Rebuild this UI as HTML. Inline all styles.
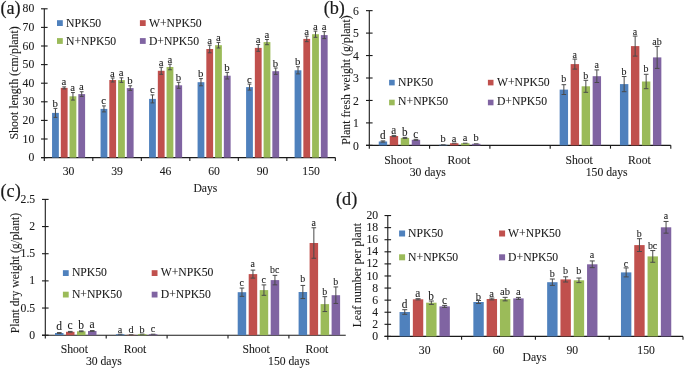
<!DOCTYPE html>
<html><head><meta charset="utf-8"><style>
html,body{margin:0;padding:0;background:#fff;overflow:hidden;width:685px;height:369px;}
svg{display:block;will-change:transform;}
text{font-family:"Liberation Serif",serif;fill:#1a1a1a;stroke:#1a1a1a;stroke-width:0.08px;}
.pl{stroke-width:0.2px;}
</style></head><body>
<svg width="685" height="369" viewBox="0 0 685 369">
<rect x="0" y="0" width="685" height="369" fill="#fff"/>
<text x="0.40" y="14.20" text-anchor="start" font-size="18.2" class="pl">(a)</text>
<line x1="44.30" y1="8.80" x2="44.30" y2="157.60" stroke="#1a1a1a" stroke-width="1.1"/>
<line x1="41.00" y1="157.60" x2="47.60" y2="157.60" stroke="#1a1a1a" stroke-width="1.1"/>
<text x="34.30" y="161.20" text-anchor="end" font-size="11.7">0</text>
<line x1="41.00" y1="139.00" x2="47.60" y2="139.00" stroke="#1a1a1a" stroke-width="1.1"/>
<text x="34.30" y="142.60" text-anchor="end" font-size="11.7">10</text>
<line x1="41.00" y1="120.40" x2="47.60" y2="120.40" stroke="#1a1a1a" stroke-width="1.1"/>
<text x="34.30" y="124.00" text-anchor="end" font-size="11.7">20</text>
<line x1="41.00" y1="101.80" x2="47.60" y2="101.80" stroke="#1a1a1a" stroke-width="1.1"/>
<text x="34.30" y="105.40" text-anchor="end" font-size="11.7">30</text>
<line x1="41.00" y1="83.20" x2="47.60" y2="83.20" stroke="#1a1a1a" stroke-width="1.1"/>
<text x="34.30" y="86.80" text-anchor="end" font-size="11.7">40</text>
<line x1="41.00" y1="64.60" x2="47.60" y2="64.60" stroke="#1a1a1a" stroke-width="1.1"/>
<text x="34.30" y="68.20" text-anchor="end" font-size="11.7">50</text>
<line x1="41.00" y1="46.00" x2="47.60" y2="46.00" stroke="#1a1a1a" stroke-width="1.1"/>
<text x="34.30" y="49.60" text-anchor="end" font-size="11.7">60</text>
<line x1="41.00" y1="27.40" x2="47.60" y2="27.40" stroke="#1a1a1a" stroke-width="1.1"/>
<text x="34.30" y="31.00" text-anchor="end" font-size="11.7">70</text>
<line x1="41.00" y1="8.80" x2="47.60" y2="8.80" stroke="#1a1a1a" stroke-width="1.1"/>
<text x="34.30" y="12.40" text-anchor="end" font-size="11.7">80</text>
<line x1="41.00" y1="157.60" x2="335.35" y2="157.60" stroke="#1a1a1a" stroke-width="1.1"/>
<line x1="44.30" y1="157.60" x2="44.30" y2="160.90" stroke="#1a1a1a" stroke-width="1.1"/>
<line x1="92.81" y1="157.60" x2="92.81" y2="160.90" stroke="#1a1a1a" stroke-width="1.1"/>
<line x1="141.32" y1="157.60" x2="141.32" y2="160.90" stroke="#1a1a1a" stroke-width="1.1"/>
<line x1="189.82" y1="157.60" x2="189.82" y2="160.90" stroke="#1a1a1a" stroke-width="1.1"/>
<line x1="238.33" y1="157.60" x2="238.33" y2="160.90" stroke="#1a1a1a" stroke-width="1.1"/>
<line x1="286.84" y1="157.60" x2="286.84" y2="160.90" stroke="#1a1a1a" stroke-width="1.1"/>
<line x1="335.35" y1="157.60" x2="335.35" y2="160.90" stroke="#1a1a1a" stroke-width="1.1"/>
<text x="68.55" y="174.80" text-anchor="middle" font-size="11.7">30</text>
<text x="117.06" y="174.80" text-anchor="middle" font-size="11.7">39</text>
<text x="165.57" y="174.80" text-anchor="middle" font-size="11.7">46</text>
<text x="214.08" y="174.80" text-anchor="middle" font-size="11.7">60</text>
<text x="262.59" y="174.80" text-anchor="middle" font-size="11.7">90</text>
<text x="311.10" y="174.80" text-anchor="middle" font-size="11.7">150</text>
<text x="205.40" y="191.80" text-anchor="middle" font-size="11.7">Days</text>
<text x="0" y="0" text-anchor="middle" font-size="11.95" transform="translate(17.90,82.90) rotate(-90)">Shoot length (cm/plant)</text>
<rect x="52.05" y="112.90" width="6.80" height="44.70" fill="#4F81BD"/>
<rect x="60.80" y="87.90" width="6.80" height="69.70" fill="#C0504D"/>
<rect x="69.55" y="96.30" width="6.80" height="61.30" fill="#9BBB59"/>
<rect x="78.30" y="94.10" width="6.80" height="63.50" fill="#8064A2"/>
<rect x="100.56" y="108.90" width="6.80" height="48.70" fill="#4F81BD"/>
<rect x="109.31" y="80.00" width="6.80" height="77.60" fill="#C0504D"/>
<rect x="118.06" y="80.10" width="6.80" height="77.50" fill="#9BBB59"/>
<rect x="126.81" y="88.10" width="6.80" height="69.50" fill="#8064A2"/>
<rect x="149.07" y="98.90" width="6.80" height="58.70" fill="#4F81BD"/>
<rect x="157.82" y="70.80" width="6.80" height="86.80" fill="#C0504D"/>
<rect x="166.57" y="67.00" width="6.80" height="90.60" fill="#9BBB59"/>
<rect x="175.32" y="85.30" width="6.80" height="72.30" fill="#8064A2"/>
<rect x="197.58" y="82.20" width="6.80" height="75.40" fill="#4F81BD"/>
<rect x="206.33" y="49.00" width="6.80" height="108.60" fill="#C0504D"/>
<rect x="215.08" y="45.20" width="6.80" height="112.40" fill="#9BBB59"/>
<rect x="223.83" y="75.70" width="6.80" height="81.90" fill="#8064A2"/>
<rect x="246.09" y="87.10" width="6.80" height="70.50" fill="#4F81BD"/>
<rect x="254.84" y="47.90" width="6.80" height="109.70" fill="#C0504D"/>
<rect x="263.59" y="42.10" width="6.80" height="115.50" fill="#9BBB59"/>
<rect x="272.34" y="71.20" width="6.80" height="86.40" fill="#8064A2"/>
<rect x="294.60" y="70.30" width="6.80" height="87.30" fill="#4F81BD"/>
<rect x="303.35" y="38.90" width="6.80" height="118.70" fill="#C0504D"/>
<rect x="312.10" y="34.20" width="6.80" height="123.40" fill="#9BBB59"/>
<rect x="320.85" y="35.10" width="6.80" height="122.50" fill="#8064A2"/>
<line x1="55.45" y1="108.40" x2="55.45" y2="117.40" stroke="#4a4a4a" stroke-width="1.0"/>
<line x1="53.55" y1="108.40" x2="57.35" y2="108.40" stroke="#4a4a4a" stroke-width="1.0"/>
<line x1="53.55" y1="117.40" x2="57.35" y2="117.40" stroke="#4a4a4a" stroke-width="1.0"/>
<text x="0" y="0" text-anchor="middle" font-size="11.2" transform="translate(55.25,106.90) scale(0.96,1)">b</text>
<line x1="64.20" y1="86.90" x2="64.20" y2="88.90" stroke="#4a4a4a" stroke-width="1.0"/>
<line x1="62.30" y1="86.90" x2="66.10" y2="86.90" stroke="#4a4a4a" stroke-width="1.0"/>
<line x1="62.30" y1="88.90" x2="66.10" y2="88.90" stroke="#4a4a4a" stroke-width="1.0"/>
<text x="0" y="0" text-anchor="middle" font-size="11.2" transform="translate(64.00,85.40) scale(0.96,1)">a</text>
<line x1="72.95" y1="92.55" x2="72.95" y2="100.05" stroke="#4a4a4a" stroke-width="1.0"/>
<line x1="71.05" y1="92.55" x2="74.85" y2="92.55" stroke="#4a4a4a" stroke-width="1.0"/>
<line x1="71.05" y1="100.05" x2="74.85" y2="100.05" stroke="#4a4a4a" stroke-width="1.0"/>
<text x="0" y="0" text-anchor="middle" font-size="11.2" transform="translate(72.75,91.05) scale(0.96,1)">a</text>
<line x1="81.70" y1="91.75" x2="81.70" y2="96.45" stroke="#4a4a4a" stroke-width="1.0"/>
<line x1="79.80" y1="91.75" x2="83.60" y2="91.75" stroke="#4a4a4a" stroke-width="1.0"/>
<line x1="79.80" y1="96.45" x2="83.60" y2="96.45" stroke="#4a4a4a" stroke-width="1.0"/>
<text x="0" y="0" text-anchor="middle" font-size="11.2" transform="translate(81.50,90.25) scale(0.96,1)">a</text>
<line x1="103.96" y1="105.90" x2="103.96" y2="111.90" stroke="#4a4a4a" stroke-width="1.0"/>
<line x1="102.06" y1="105.90" x2="105.86" y2="105.90" stroke="#4a4a4a" stroke-width="1.0"/>
<line x1="102.06" y1="111.90" x2="105.86" y2="111.90" stroke="#4a4a4a" stroke-width="1.0"/>
<text x="0" y="0" text-anchor="middle" font-size="11.2" transform="translate(103.76,104.40) scale(0.96,1)">c</text>
<line x1="112.71" y1="78.00" x2="112.71" y2="82.00" stroke="#4a4a4a" stroke-width="1.0"/>
<line x1="110.81" y1="78.00" x2="114.61" y2="78.00" stroke="#4a4a4a" stroke-width="1.0"/>
<line x1="110.81" y1="82.00" x2="114.61" y2="82.00" stroke="#4a4a4a" stroke-width="1.0"/>
<text x="0" y="0" text-anchor="middle" font-size="11.2" transform="translate(112.51,76.50) scale(0.96,1)">a</text>
<line x1="121.46" y1="77.80" x2="121.46" y2="82.40" stroke="#4a4a4a" stroke-width="1.0"/>
<line x1="119.56" y1="77.80" x2="123.36" y2="77.80" stroke="#4a4a4a" stroke-width="1.0"/>
<line x1="119.56" y1="82.40" x2="123.36" y2="82.40" stroke="#4a4a4a" stroke-width="1.0"/>
<text x="0" y="0" text-anchor="middle" font-size="11.2" transform="translate(121.26,76.30) scale(0.96,1)">a</text>
<line x1="130.21" y1="85.80" x2="130.21" y2="90.40" stroke="#4a4a4a" stroke-width="1.0"/>
<line x1="128.31" y1="85.80" x2="132.11" y2="85.80" stroke="#4a4a4a" stroke-width="1.0"/>
<line x1="128.31" y1="90.40" x2="132.11" y2="90.40" stroke="#4a4a4a" stroke-width="1.0"/>
<text x="0" y="0" text-anchor="middle" font-size="11.2" transform="translate(130.01,84.30) scale(0.96,1)">b</text>
<line x1="152.47" y1="94.90" x2="152.47" y2="102.90" stroke="#4a4a4a" stroke-width="1.0"/>
<line x1="150.57" y1="94.90" x2="154.37" y2="94.90" stroke="#4a4a4a" stroke-width="1.0"/>
<line x1="150.57" y1="102.90" x2="154.37" y2="102.90" stroke="#4a4a4a" stroke-width="1.0"/>
<text x="0" y="0" text-anchor="middle" font-size="11.2" transform="translate(152.27,93.40) scale(0.96,1)">c</text>
<line x1="161.22" y1="67.30" x2="161.22" y2="74.30" stroke="#4a4a4a" stroke-width="1.0"/>
<line x1="159.32" y1="67.30" x2="163.12" y2="67.30" stroke="#4a4a4a" stroke-width="1.0"/>
<line x1="159.32" y1="74.30" x2="163.12" y2="74.30" stroke="#4a4a4a" stroke-width="1.0"/>
<text x="0" y="0" text-anchor="middle" font-size="11.2" transform="translate(161.02,65.80) scale(0.96,1)">a</text>
<line x1="169.97" y1="64.25" x2="169.97" y2="69.75" stroke="#4a4a4a" stroke-width="1.0"/>
<line x1="168.07" y1="64.25" x2="171.87" y2="64.25" stroke="#4a4a4a" stroke-width="1.0"/>
<line x1="168.07" y1="69.75" x2="171.87" y2="69.75" stroke="#4a4a4a" stroke-width="1.0"/>
<text x="0" y="0" text-anchor="middle" font-size="11.2" transform="translate(169.77,62.75) scale(0.96,1)">a</text>
<line x1="178.72" y1="82.30" x2="178.72" y2="88.30" stroke="#4a4a4a" stroke-width="1.0"/>
<line x1="176.82" y1="82.30" x2="180.62" y2="82.30" stroke="#4a4a4a" stroke-width="1.0"/>
<line x1="176.82" y1="88.30" x2="180.62" y2="88.30" stroke="#4a4a4a" stroke-width="1.0"/>
<text x="0" y="0" text-anchor="middle" font-size="11.2" transform="translate(178.52,80.80) scale(0.96,1)">b</text>
<line x1="200.98" y1="78.60" x2="200.98" y2="85.80" stroke="#4a4a4a" stroke-width="1.0"/>
<line x1="199.08" y1="78.60" x2="202.88" y2="78.60" stroke="#4a4a4a" stroke-width="1.0"/>
<line x1="199.08" y1="85.80" x2="202.88" y2="85.80" stroke="#4a4a4a" stroke-width="1.0"/>
<text x="0" y="0" text-anchor="middle" font-size="11.2" transform="translate(200.78,77.10) scale(0.96,1)">b</text>
<line x1="209.73" y1="45.20" x2="209.73" y2="52.80" stroke="#4a4a4a" stroke-width="1.0"/>
<line x1="207.83" y1="45.20" x2="211.63" y2="45.20" stroke="#4a4a4a" stroke-width="1.0"/>
<line x1="207.83" y1="52.80" x2="211.63" y2="52.80" stroke="#4a4a4a" stroke-width="1.0"/>
<text x="0" y="0" text-anchor="middle" font-size="11.2" transform="translate(209.53,43.70) scale(0.96,1)">a</text>
<line x1="218.48" y1="42.40" x2="218.48" y2="48.00" stroke="#4a4a4a" stroke-width="1.0"/>
<line x1="216.58" y1="42.40" x2="220.38" y2="42.40" stroke="#4a4a4a" stroke-width="1.0"/>
<line x1="216.58" y1="48.00" x2="220.38" y2="48.00" stroke="#4a4a4a" stroke-width="1.0"/>
<text x="0" y="0" text-anchor="middle" font-size="11.2" transform="translate(218.28,40.90) scale(0.96,1)">a</text>
<line x1="227.23" y1="72.40" x2="227.23" y2="79.00" stroke="#4a4a4a" stroke-width="1.0"/>
<line x1="225.33" y1="72.40" x2="229.13" y2="72.40" stroke="#4a4a4a" stroke-width="1.0"/>
<line x1="225.33" y1="79.00" x2="229.13" y2="79.00" stroke="#4a4a4a" stroke-width="1.0"/>
<text x="0" y="0" text-anchor="middle" font-size="11.2" transform="translate(227.03,70.90) scale(0.96,1)">b</text>
<line x1="249.49" y1="84.10" x2="249.49" y2="90.10" stroke="#4a4a4a" stroke-width="1.0"/>
<line x1="247.59" y1="84.10" x2="251.39" y2="84.10" stroke="#4a4a4a" stroke-width="1.0"/>
<line x1="247.59" y1="90.10" x2="251.39" y2="90.10" stroke="#4a4a4a" stroke-width="1.0"/>
<text x="0" y="0" text-anchor="middle" font-size="11.2" transform="translate(249.29,82.60) scale(0.96,1)">c</text>
<line x1="258.24" y1="44.50" x2="258.24" y2="51.30" stroke="#4a4a4a" stroke-width="1.0"/>
<line x1="256.34" y1="44.50" x2="260.14" y2="44.50" stroke="#4a4a4a" stroke-width="1.0"/>
<line x1="256.34" y1="51.30" x2="260.14" y2="51.30" stroke="#4a4a4a" stroke-width="1.0"/>
<text x="0" y="0" text-anchor="middle" font-size="11.2" transform="translate(258.04,43.00) scale(0.96,1)">a</text>
<line x1="266.99" y1="39.50" x2="266.99" y2="44.70" stroke="#4a4a4a" stroke-width="1.0"/>
<line x1="265.09" y1="39.50" x2="268.89" y2="39.50" stroke="#4a4a4a" stroke-width="1.0"/>
<line x1="265.09" y1="44.70" x2="268.89" y2="44.70" stroke="#4a4a4a" stroke-width="1.0"/>
<text x="0" y="0" text-anchor="middle" font-size="11.2" transform="translate(266.79,38.00) scale(0.96,1)">a</text>
<line x1="275.74" y1="68.00" x2="275.74" y2="74.40" stroke="#4a4a4a" stroke-width="1.0"/>
<line x1="273.84" y1="68.00" x2="277.64" y2="68.00" stroke="#4a4a4a" stroke-width="1.0"/>
<line x1="273.84" y1="74.40" x2="277.64" y2="74.40" stroke="#4a4a4a" stroke-width="1.0"/>
<text x="0" y="0" text-anchor="middle" font-size="11.2" transform="translate(275.54,66.50) scale(0.96,1)">b</text>
<line x1="298.00" y1="66.70" x2="298.00" y2="73.90" stroke="#4a4a4a" stroke-width="1.0"/>
<line x1="296.10" y1="66.70" x2="299.90" y2="66.70" stroke="#4a4a4a" stroke-width="1.0"/>
<line x1="296.10" y1="73.90" x2="299.90" y2="73.90" stroke="#4a4a4a" stroke-width="1.0"/>
<text x="0" y="0" text-anchor="middle" font-size="11.2" transform="translate(297.80,65.20) scale(0.96,1)">b</text>
<line x1="306.75" y1="36.15" x2="306.75" y2="41.65" stroke="#4a4a4a" stroke-width="1.0"/>
<line x1="304.85" y1="36.15" x2="308.65" y2="36.15" stroke="#4a4a4a" stroke-width="1.0"/>
<line x1="304.85" y1="41.65" x2="308.65" y2="41.65" stroke="#4a4a4a" stroke-width="1.0"/>
<text x="0" y="0" text-anchor="middle" font-size="11.2" transform="translate(306.55,34.65) scale(0.96,1)">a</text>
<line x1="315.50" y1="31.10" x2="315.50" y2="37.30" stroke="#4a4a4a" stroke-width="1.0"/>
<line x1="313.60" y1="31.10" x2="317.40" y2="31.10" stroke="#4a4a4a" stroke-width="1.0"/>
<line x1="313.60" y1="37.30" x2="317.40" y2="37.30" stroke="#4a4a4a" stroke-width="1.0"/>
<text x="0" y="0" text-anchor="middle" font-size="11.2" transform="translate(315.30,29.60) scale(0.96,1)">a</text>
<line x1="324.25" y1="31.60" x2="324.25" y2="38.60" stroke="#4a4a4a" stroke-width="1.0"/>
<line x1="322.35" y1="31.60" x2="326.15" y2="31.60" stroke="#4a4a4a" stroke-width="1.0"/>
<line x1="322.35" y1="38.60" x2="326.15" y2="38.60" stroke="#4a4a4a" stroke-width="1.0"/>
<text x="0" y="0" text-anchor="middle" font-size="11.2" transform="translate(324.05,30.10) scale(0.96,1)">a</text>
<rect x="57.00" y="20.20" width="5.80" height="5.80" fill="#4F81BD"/>
<text x="66.00" y="26.90" text-anchor="start" font-size="11.7">NPK50</text>
<rect x="139.90" y="20.20" width="5.80" height="5.80" fill="#C0504D"/>
<text x="148.90" y="26.90" text-anchor="start" font-size="11.7">W+NPK50</text>
<rect x="57.00" y="38.10" width="5.80" height="5.80" fill="#9BBB59"/>
<text x="66.00" y="44.70" text-anchor="start" font-size="11.7">N+NPK50</text>
<rect x="139.90" y="38.10" width="5.80" height="5.80" fill="#8064A2"/>
<text x="148.90" y="44.70" text-anchor="start" font-size="11.7">D+NPK50</text>
<text x="344.90" y="14.40" text-anchor="end" font-size="18.2" class="pl">(b)</text>
<line x1="369.30" y1="10.65" x2="369.30" y2="145.35" stroke="#1a1a1a" stroke-width="1.1"/>
<line x1="366.00" y1="145.35" x2="372.60" y2="145.35" stroke="#1a1a1a" stroke-width="1.1"/>
<text x="358.90" y="149.55" text-anchor="end" font-size="11.7">0</text>
<line x1="366.00" y1="122.90" x2="372.60" y2="122.90" stroke="#1a1a1a" stroke-width="1.1"/>
<text x="358.90" y="127.10" text-anchor="end" font-size="11.7">1</text>
<line x1="366.00" y1="100.45" x2="372.60" y2="100.45" stroke="#1a1a1a" stroke-width="1.1"/>
<text x="358.90" y="104.65" text-anchor="end" font-size="11.7">2</text>
<line x1="366.00" y1="78.00" x2="372.60" y2="78.00" stroke="#1a1a1a" stroke-width="1.1"/>
<text x="358.90" y="82.20" text-anchor="end" font-size="11.7">3</text>
<line x1="366.00" y1="55.55" x2="372.60" y2="55.55" stroke="#1a1a1a" stroke-width="1.1"/>
<text x="358.90" y="59.75" text-anchor="end" font-size="11.7">4</text>
<line x1="366.00" y1="33.10" x2="372.60" y2="33.10" stroke="#1a1a1a" stroke-width="1.1"/>
<text x="358.90" y="37.30" text-anchor="end" font-size="11.7">5</text>
<line x1="366.00" y1="10.65" x2="372.60" y2="10.65" stroke="#1a1a1a" stroke-width="1.1"/>
<text x="358.90" y="14.85" text-anchor="end" font-size="11.7">6</text>
<line x1="366.00" y1="145.35" x2="670.80" y2="145.35" stroke="#1a1a1a" stroke-width="1.1"/>
<line x1="369.30" y1="145.35" x2="369.30" y2="148.65" stroke="#1a1a1a" stroke-width="1.1"/>
<line x1="429.60" y1="145.35" x2="429.60" y2="148.65" stroke="#1a1a1a" stroke-width="1.1"/>
<line x1="489.90" y1="145.35" x2="489.90" y2="148.65" stroke="#1a1a1a" stroke-width="1.1"/>
<line x1="550.20" y1="145.35" x2="550.20" y2="148.65" stroke="#1a1a1a" stroke-width="1.1"/>
<line x1="610.50" y1="145.35" x2="610.50" y2="148.65" stroke="#1a1a1a" stroke-width="1.1"/>
<line x1="670.80" y1="145.35" x2="670.80" y2="148.65" stroke="#1a1a1a" stroke-width="1.1"/>
<text x="398.00" y="163.70" text-anchor="middle" font-size="11.7">Shoot</text>
<text x="458.80" y="163.70" text-anchor="middle" font-size="11.7">Root</text>
<text x="427.80" y="175.50" text-anchor="middle" font-size="11.7">30 days</text>
<text x="579.10" y="163.70" text-anchor="middle" font-size="11.7">Shoot</text>
<text x="639.40" y="163.70" text-anchor="middle" font-size="11.7">Root</text>
<text x="606.70" y="175.50" text-anchor="middle" font-size="11.7">150 days</text>
<text x="0" y="0" text-anchor="middle" font-size="11.8" transform="translate(350.40,80.10) rotate(-90)">Plant fresh weight (g/plant)</text>
<rect x="378.75" y="141.50" width="8.40" height="3.85" fill="#4F81BD"/>
<rect x="389.75" y="136.00" width="8.40" height="9.35" fill="#C0504D"/>
<rect x="400.75" y="137.90" width="8.40" height="7.45" fill="#9BBB59"/>
<rect x="411.75" y="139.80" width="8.40" height="5.55" fill="#8064A2"/>
<rect x="439.05" y="144.80" width="8.40" height="0.55" fill="#4F81BD"/>
<rect x="450.05" y="143.20" width="8.40" height="2.15" fill="#C0504D"/>
<rect x="461.05" y="143.20" width="8.40" height="2.15" fill="#9BBB59"/>
<rect x="472.05" y="143.80" width="8.40" height="1.55" fill="#8064A2"/>
<rect x="559.65" y="89.60" width="8.40" height="55.75" fill="#4F81BD"/>
<rect x="570.65" y="64.10" width="8.40" height="81.25" fill="#C0504D"/>
<rect x="581.65" y="86.30" width="8.40" height="59.05" fill="#9BBB59"/>
<rect x="592.65" y="76.20" width="8.40" height="69.15" fill="#8064A2"/>
<rect x="619.95" y="84.10" width="8.40" height="61.25" fill="#4F81BD"/>
<rect x="630.95" y="46.10" width="8.40" height="99.25" fill="#C0504D"/>
<rect x="641.95" y="81.50" width="8.40" height="63.85" fill="#9BBB59"/>
<rect x="652.95" y="57.40" width="8.40" height="87.95" fill="#8064A2"/>
<line x1="382.95" y1="140.90" x2="382.95" y2="142.10" stroke="#4a4a4a" stroke-width="1.0"/>
<line x1="380.65" y1="140.90" x2="385.25" y2="140.90" stroke="#4a4a4a" stroke-width="1.0"/>
<line x1="380.65" y1="142.10" x2="385.25" y2="142.10" stroke="#4a4a4a" stroke-width="1.0"/>
<text x="0" y="0" text-anchor="middle" font-size="11.6" transform="translate(382.75,138.50) scale(0.96,1)">d</text>
<line x1="393.95" y1="135.40" x2="393.95" y2="136.60" stroke="#4a4a4a" stroke-width="1.0"/>
<line x1="391.65" y1="135.40" x2="396.25" y2="135.40" stroke="#4a4a4a" stroke-width="1.0"/>
<line x1="391.65" y1="136.60" x2="396.25" y2="136.60" stroke="#4a4a4a" stroke-width="1.0"/>
<text x="0" y="0" text-anchor="middle" font-size="11.6" transform="translate(393.75,134.20) scale(0.96,1)">a</text>
<line x1="404.95" y1="137.40" x2="404.95" y2="138.40" stroke="#4a4a4a" stroke-width="1.0"/>
<line x1="402.65" y1="137.40" x2="407.25" y2="137.40" stroke="#4a4a4a" stroke-width="1.0"/>
<line x1="402.65" y1="138.40" x2="407.25" y2="138.40" stroke="#4a4a4a" stroke-width="1.0"/>
<text x="0" y="0" text-anchor="middle" font-size="11.6" transform="translate(404.75,136.00) scale(0.96,1)">b</text>
<line x1="415.95" y1="139.30" x2="415.95" y2="140.30" stroke="#4a4a4a" stroke-width="1.0"/>
<line x1="413.65" y1="139.30" x2="418.25" y2="139.30" stroke="#4a4a4a" stroke-width="1.0"/>
<line x1="413.65" y1="140.30" x2="418.25" y2="140.30" stroke="#4a4a4a" stroke-width="1.0"/>
<text x="0" y="0" text-anchor="middle" font-size="11.6" transform="translate(415.75,138.00) scale(0.96,1)">c</text>
<line x1="440.95" y1="144.80" x2="445.55" y2="144.80" stroke="#4a4a4a" stroke-width="1.0"/>
<text x="0" y="0" text-anchor="middle" font-size="10.8" transform="translate(443.05,142.40) scale(0.96,1)">b</text>
<line x1="451.95" y1="143.20" x2="456.55" y2="143.20" stroke="#4a4a4a" stroke-width="1.0"/>
<text x="0" y="0" text-anchor="middle" font-size="10.8" transform="translate(454.05,141.50) scale(0.96,1)">a</text>
<line x1="462.95" y1="143.20" x2="467.55" y2="143.20" stroke="#4a4a4a" stroke-width="1.0"/>
<text x="0" y="0" text-anchor="middle" font-size="10.8" transform="translate(465.05,140.80) scale(0.96,1)">a</text>
<line x1="473.95" y1="143.80" x2="478.55" y2="143.80" stroke="#4a4a4a" stroke-width="1.0"/>
<text x="0" y="0" text-anchor="middle" font-size="10.8" transform="translate(476.05,141.30) scale(0.96,1)">b</text>
<line x1="563.85" y1="84.70" x2="563.85" y2="94.50" stroke="#4a4a4a" stroke-width="1.0"/>
<line x1="561.55" y1="84.70" x2="566.15" y2="84.70" stroke="#4a4a4a" stroke-width="1.0"/>
<line x1="561.55" y1="94.50" x2="566.15" y2="94.50" stroke="#4a4a4a" stroke-width="1.0"/>
<text x="0" y="0" text-anchor="middle" font-size="10.4" transform="translate(563.65,81.80) scale(0.96,1)">b</text>
<line x1="574.85" y1="59.10" x2="574.85" y2="69.10" stroke="#4a4a4a" stroke-width="1.0"/>
<line x1="572.55" y1="59.10" x2="577.15" y2="59.10" stroke="#4a4a4a" stroke-width="1.0"/>
<line x1="572.55" y1="69.10" x2="577.15" y2="69.10" stroke="#4a4a4a" stroke-width="1.0"/>
<text x="0" y="0" text-anchor="middle" font-size="10.4" transform="translate(574.65,58.00) scale(0.96,1)">a</text>
<line x1="585.85" y1="80.30" x2="585.85" y2="92.30" stroke="#4a4a4a" stroke-width="1.0"/>
<line x1="583.55" y1="80.30" x2="588.15" y2="80.30" stroke="#4a4a4a" stroke-width="1.0"/>
<line x1="583.55" y1="92.30" x2="588.15" y2="92.30" stroke="#4a4a4a" stroke-width="1.0"/>
<text x="0" y="0" text-anchor="middle" font-size="10.4" transform="translate(585.65,78.80) scale(0.96,1)">b</text>
<line x1="596.85" y1="69.90" x2="596.85" y2="82.50" stroke="#4a4a4a" stroke-width="1.0"/>
<line x1="594.55" y1="69.90" x2="599.15" y2="69.90" stroke="#4a4a4a" stroke-width="1.0"/>
<line x1="594.55" y1="82.50" x2="599.15" y2="82.50" stroke="#4a4a4a" stroke-width="1.0"/>
<text x="0" y="0" text-anchor="middle" font-size="10.4" transform="translate(596.65,68.30) scale(0.96,1)">a</text>
<line x1="624.15" y1="76.50" x2="624.15" y2="91.70" stroke="#4a4a4a" stroke-width="1.0"/>
<line x1="621.85" y1="76.50" x2="626.45" y2="76.50" stroke="#4a4a4a" stroke-width="1.0"/>
<line x1="621.85" y1="91.70" x2="626.45" y2="91.70" stroke="#4a4a4a" stroke-width="1.0"/>
<text x="0" y="0" text-anchor="middle" font-size="10.4" transform="translate(623.95,74.60) scale(0.96,1)">b</text>
<line x1="635.15" y1="36.10" x2="635.15" y2="56.10" stroke="#4a4a4a" stroke-width="1.0"/>
<line x1="632.85" y1="36.10" x2="637.45" y2="36.10" stroke="#4a4a4a" stroke-width="1.0"/>
<line x1="632.85" y1="56.10" x2="637.45" y2="56.10" stroke="#4a4a4a" stroke-width="1.0"/>
<text x="0" y="0" text-anchor="middle" font-size="10.4" transform="translate(634.95,35.40) scale(0.96,1)">a</text>
<line x1="646.15" y1="74.30" x2="646.15" y2="88.70" stroke="#4a4a4a" stroke-width="1.0"/>
<line x1="643.85" y1="74.30" x2="648.45" y2="74.30" stroke="#4a4a4a" stroke-width="1.0"/>
<line x1="643.85" y1="88.70" x2="648.45" y2="88.70" stroke="#4a4a4a" stroke-width="1.0"/>
<text x="0" y="0" text-anchor="middle" font-size="10.4" transform="translate(645.95,72.30) scale(0.96,1)">b</text>
<line x1="657.15" y1="46.40" x2="657.15" y2="68.40" stroke="#4a4a4a" stroke-width="1.0"/>
<line x1="654.85" y1="46.40" x2="659.45" y2="46.40" stroke="#4a4a4a" stroke-width="1.0"/>
<line x1="654.85" y1="68.40" x2="659.45" y2="68.40" stroke="#4a4a4a" stroke-width="1.0"/>
<text x="0" y="0" text-anchor="middle" font-size="10.4" transform="translate(656.95,44.90) scale(0.96,1)">ab</text>
<rect x="389.10" y="79.80" width="5.60" height="5.60" fill="#4F81BD"/>
<text x="398.10" y="85.80" text-anchor="start" font-size="11.7">NPK50</text>
<rect x="487.90" y="79.80" width="5.60" height="5.60" fill="#C0504D"/>
<text x="496.90" y="85.80" text-anchor="start" font-size="11.7">W+NPK50</text>
<rect x="389.10" y="99.70" width="5.60" height="5.60" fill="#9BBB59"/>
<text x="398.10" y="105.00" text-anchor="start" font-size="11.7">N+NPK50</text>
<rect x="487.90" y="99.70" width="5.60" height="5.60" fill="#8064A2"/>
<text x="496.90" y="105.00" text-anchor="start" font-size="11.7">D+NPK50</text>
<text x="0.50" y="197.20" text-anchor="start" font-size="18.2" class="pl">(c)</text>
<line x1="45.30" y1="199.40" x2="45.30" y2="335.20" stroke="#1a1a1a" stroke-width="1.1"/>
<line x1="42.00" y1="335.20" x2="48.60" y2="335.20" stroke="#1a1a1a" stroke-width="1.1"/>
<text x="35.20" y="338.80" text-anchor="end" font-size="11.7">0</text>
<line x1="42.00" y1="308.04" x2="48.60" y2="308.04" stroke="#1a1a1a" stroke-width="1.1"/>
<text x="35.20" y="311.64" text-anchor="end" font-size="11.7">0.5</text>
<line x1="42.00" y1="280.88" x2="48.60" y2="280.88" stroke="#1a1a1a" stroke-width="1.1"/>
<text x="35.20" y="284.48" text-anchor="end" font-size="11.7">1</text>
<line x1="42.00" y1="253.72" x2="48.60" y2="253.72" stroke="#1a1a1a" stroke-width="1.1"/>
<text x="35.20" y="257.32" text-anchor="end" font-size="11.7">1.5</text>
<line x1="42.00" y1="226.56" x2="48.60" y2="226.56" stroke="#1a1a1a" stroke-width="1.1"/>
<text x="35.20" y="230.16" text-anchor="end" font-size="11.7">2</text>
<line x1="42.00" y1="199.40" x2="48.60" y2="199.40" stroke="#1a1a1a" stroke-width="1.1"/>
<text x="35.20" y="203.00" text-anchor="end" font-size="11.7">2.5</text>
<line x1="42.00" y1="335.20" x2="345.75" y2="335.20" stroke="#1a1a1a" stroke-width="1.1"/>
<line x1="45.30" y1="335.20" x2="45.30" y2="338.50" stroke="#1a1a1a" stroke-width="1.1"/>
<line x1="106.20" y1="335.20" x2="106.20" y2="338.50" stroke="#1a1a1a" stroke-width="1.1"/>
<line x1="167.10" y1="335.20" x2="167.10" y2="338.50" stroke="#1a1a1a" stroke-width="1.1"/>
<line x1="228.00" y1="335.20" x2="228.00" y2="338.50" stroke="#1a1a1a" stroke-width="1.1"/>
<line x1="288.90" y1="335.20" x2="288.90" y2="338.50" stroke="#1a1a1a" stroke-width="1.1"/>
<text x="74.30" y="352.50" text-anchor="middle" font-size="11.7">Shoot</text>
<text x="135.00" y="352.50" text-anchor="middle" font-size="11.7">Root</text>
<text x="103.90" y="365.10" text-anchor="middle" font-size="11.7">30 days</text>
<text x="256.10" y="352.50" text-anchor="middle" font-size="11.7">Shoot</text>
<text x="316.90" y="352.50" text-anchor="middle" font-size="11.7">Root</text>
<text x="289.00" y="365.10" text-anchor="middle" font-size="11.7">150 days</text>
<text x="0" y="0" text-anchor="middle" font-size="11.7" transform="translate(18.90,273.00) rotate(-90)">Plant dry weight (g/plant)</text>
<rect x="55.00" y="333.00" width="8.50" height="2.20" fill="#4F81BD"/>
<rect x="66.00" y="331.80" width="8.50" height="3.40" fill="#C0504D"/>
<rect x="77.00" y="331.30" width="8.50" height="3.90" fill="#9BBB59"/>
<rect x="88.00" y="331.00" width="8.50" height="4.20" fill="#8064A2"/>
<rect x="115.90" y="334.20" width="8.50" height="1.00" fill="#4F81BD"/>
<rect x="126.90" y="334.80" width="8.50" height="0.40" fill="#C0504D"/>
<rect x="137.90" y="334.10" width="8.50" height="1.10" fill="#9BBB59"/>
<rect x="148.90" y="334.20" width="8.50" height="1.00" fill="#8064A2"/>
<rect x="237.70" y="292.20" width="8.50" height="43.00" fill="#4F81BD"/>
<rect x="248.70" y="274.10" width="8.50" height="61.10" fill="#C0504D"/>
<rect x="259.70" y="290.10" width="8.50" height="45.10" fill="#9BBB59"/>
<rect x="270.70" y="280.10" width="8.50" height="55.10" fill="#8064A2"/>
<rect x="298.60" y="292.00" width="8.50" height="43.20" fill="#4F81BD"/>
<rect x="309.60" y="243.00" width="8.50" height="92.20" fill="#C0504D"/>
<rect x="320.60" y="304.10" width="8.50" height="31.10" fill="#9BBB59"/>
<rect x="331.60" y="295.20" width="8.50" height="40.00" fill="#8064A2"/>
<line x1="59.25" y1="332.60" x2="59.25" y2="333.40" stroke="#4a4a4a" stroke-width="1.0"/>
<line x1="56.95" y1="332.60" x2="61.55" y2="332.60" stroke="#4a4a4a" stroke-width="1.0"/>
<line x1="56.95" y1="333.40" x2="61.55" y2="333.40" stroke="#4a4a4a" stroke-width="1.0"/>
<text x="0" y="0" text-anchor="middle" font-size="12.0" transform="translate(59.05,330.40) scale(0.96,1)">d</text>
<line x1="70.25" y1="331.40" x2="70.25" y2="332.20" stroke="#4a4a4a" stroke-width="1.0"/>
<line x1="67.95" y1="331.40" x2="72.55" y2="331.40" stroke="#4a4a4a" stroke-width="1.0"/>
<line x1="67.95" y1="332.20" x2="72.55" y2="332.20" stroke="#4a4a4a" stroke-width="1.0"/>
<text x="0" y="0" text-anchor="middle" font-size="12.0" transform="translate(70.05,329.20) scale(0.96,1)">c</text>
<line x1="81.25" y1="330.90" x2="81.25" y2="331.70" stroke="#4a4a4a" stroke-width="1.0"/>
<line x1="78.95" y1="330.90" x2="83.55" y2="330.90" stroke="#4a4a4a" stroke-width="1.0"/>
<line x1="78.95" y1="331.70" x2="83.55" y2="331.70" stroke="#4a4a4a" stroke-width="1.0"/>
<text x="0" y="0" text-anchor="middle" font-size="12.0" transform="translate(81.05,328.60) scale(0.96,1)">b</text>
<line x1="92.25" y1="330.60" x2="92.25" y2="331.40" stroke="#4a4a4a" stroke-width="1.0"/>
<line x1="89.95" y1="330.60" x2="94.55" y2="330.60" stroke="#4a4a4a" stroke-width="1.0"/>
<line x1="89.95" y1="331.40" x2="94.55" y2="331.40" stroke="#4a4a4a" stroke-width="1.0"/>
<text x="0" y="0" text-anchor="middle" font-size="12.0" transform="translate(92.05,327.80) scale(0.96,1)">a</text>
<line x1="117.85" y1="334.20" x2="122.45" y2="334.20" stroke="#4a4a4a" stroke-width="1.0"/>
<text x="0" y="0" text-anchor="middle" font-size="10.6" transform="translate(119.95,332.50) scale(0.96,1)">a</text>
<line x1="128.85" y1="334.80" x2="133.45" y2="334.80" stroke="#4a4a4a" stroke-width="1.0"/>
<text x="0" y="0" text-anchor="middle" font-size="10.6" transform="translate(130.95,333.40) scale(0.96,1)">d</text>
<line x1="139.85" y1="334.10" x2="144.45" y2="334.10" stroke="#4a4a4a" stroke-width="1.0"/>
<text x="0" y="0" text-anchor="middle" font-size="10.6" transform="translate(141.95,332.50) scale(0.96,1)">b</text>
<line x1="150.85" y1="334.20" x2="155.45" y2="334.20" stroke="#4a4a4a" stroke-width="1.0"/>
<text x="0" y="0" text-anchor="middle" font-size="10.6" transform="translate(152.95,331.60) scale(0.96,1)">c</text>
<line x1="241.95" y1="288.05" x2="241.95" y2="296.35" stroke="#4a4a4a" stroke-width="1.0"/>
<line x1="239.65" y1="288.05" x2="244.25" y2="288.05" stroke="#4a4a4a" stroke-width="1.0"/>
<line x1="239.65" y1="296.35" x2="244.25" y2="296.35" stroke="#4a4a4a" stroke-width="1.0"/>
<text x="0" y="0" text-anchor="middle" font-size="10.3" transform="translate(241.75,285.90) scale(0.96,1)">c</text>
<line x1="252.95" y1="270.10" x2="252.95" y2="278.10" stroke="#4a4a4a" stroke-width="1.0"/>
<line x1="250.65" y1="270.10" x2="255.25" y2="270.10" stroke="#4a4a4a" stroke-width="1.0"/>
<line x1="250.65" y1="278.10" x2="255.25" y2="278.10" stroke="#4a4a4a" stroke-width="1.0"/>
<text x="0" y="0" text-anchor="middle" font-size="10.3" transform="translate(252.75,267.40) scale(0.96,1)">a</text>
<line x1="263.95" y1="284.90" x2="263.95" y2="295.30" stroke="#4a4a4a" stroke-width="1.0"/>
<line x1="261.65" y1="284.90" x2="266.25" y2="284.90" stroke="#4a4a4a" stroke-width="1.0"/>
<line x1="261.65" y1="295.30" x2="266.25" y2="295.30" stroke="#4a4a4a" stroke-width="1.0"/>
<text x="0" y="0" text-anchor="middle" font-size="10.3" transform="translate(263.75,282.60) scale(0.96,1)">c</text>
<line x1="274.95" y1="275.35" x2="274.95" y2="284.85" stroke="#4a4a4a" stroke-width="1.0"/>
<line x1="272.65" y1="275.35" x2="277.25" y2="275.35" stroke="#4a4a4a" stroke-width="1.0"/>
<line x1="272.65" y1="284.85" x2="277.25" y2="284.85" stroke="#4a4a4a" stroke-width="1.0"/>
<text x="0" y="0" text-anchor="middle" font-size="10.3" transform="translate(274.75,272.50) scale(0.96,1)">bc</text>
<line x1="302.85" y1="285.45" x2="302.85" y2="298.55" stroke="#4a4a4a" stroke-width="1.0"/>
<line x1="300.55" y1="285.45" x2="305.15" y2="285.45" stroke="#4a4a4a" stroke-width="1.0"/>
<line x1="300.55" y1="298.55" x2="305.15" y2="298.55" stroke="#4a4a4a" stroke-width="1.0"/>
<text x="0" y="0" text-anchor="middle" font-size="10.3" transform="translate(302.65,282.00) scale(0.96,1)">b</text>
<line x1="313.85" y1="227.75" x2="313.85" y2="258.25" stroke="#4a4a4a" stroke-width="1.0"/>
<line x1="311.55" y1="227.75" x2="316.15" y2="227.75" stroke="#4a4a4a" stroke-width="1.0"/>
<line x1="311.55" y1="258.25" x2="316.15" y2="258.25" stroke="#4a4a4a" stroke-width="1.0"/>
<text x="0" y="0" text-anchor="middle" font-size="10.3" transform="translate(313.65,225.70) scale(0.96,1)">a</text>
<line x1="324.85" y1="296.65" x2="324.85" y2="311.55" stroke="#4a4a4a" stroke-width="1.0"/>
<line x1="322.55" y1="296.65" x2="327.15" y2="296.65" stroke="#4a4a4a" stroke-width="1.0"/>
<line x1="322.55" y1="311.55" x2="327.15" y2="311.55" stroke="#4a4a4a" stroke-width="1.0"/>
<text x="0" y="0" text-anchor="middle" font-size="10.3" transform="translate(324.65,294.60) scale(0.96,1)">b</text>
<line x1="335.85" y1="286.95" x2="335.85" y2="303.45" stroke="#4a4a4a" stroke-width="1.0"/>
<line x1="333.55" y1="286.95" x2="338.15" y2="286.95" stroke="#4a4a4a" stroke-width="1.0"/>
<line x1="333.55" y1="303.45" x2="338.15" y2="303.45" stroke="#4a4a4a" stroke-width="1.0"/>
<text x="0" y="0" text-anchor="middle" font-size="10.3" transform="translate(335.65,284.60) scale(0.96,1)">b</text>
<rect x="62.90" y="270.20" width="5.80" height="5.80" fill="#4F81BD"/>
<text x="71.90" y="276.40" text-anchor="start" font-size="11.7">NPK50</text>
<rect x="151.70" y="270.20" width="5.80" height="5.80" fill="#C0504D"/>
<text x="160.70" y="276.40" text-anchor="start" font-size="11.7">W+NPK50</text>
<rect x="62.90" y="291.70" width="5.80" height="5.80" fill="#9BBB59"/>
<text x="71.90" y="298.30" text-anchor="start" font-size="11.7">N+NPK50</text>
<rect x="151.70" y="291.70" width="5.80" height="5.80" fill="#8064A2"/>
<text x="160.70" y="298.30" text-anchor="start" font-size="11.7">D+NPK50</text>
<text x="336.00" y="204.80" text-anchor="start" font-size="18.2" class="pl">(d)</text>
<line x1="387.80" y1="215.55" x2="387.80" y2="336.40" stroke="#1a1a1a" stroke-width="1.1"/>
<line x1="384.50" y1="336.40" x2="391.10" y2="336.40" stroke="#1a1a1a" stroke-width="1.1"/>
<text x="378.20" y="340.00" text-anchor="end" font-size="11.7">0</text>
<line x1="384.50" y1="324.31" x2="391.10" y2="324.31" stroke="#1a1a1a" stroke-width="1.1"/>
<text x="378.20" y="327.92" text-anchor="end" font-size="11.7">2</text>
<line x1="384.50" y1="312.23" x2="391.10" y2="312.23" stroke="#1a1a1a" stroke-width="1.1"/>
<text x="378.20" y="315.83" text-anchor="end" font-size="11.7">4</text>
<line x1="384.50" y1="300.14" x2="391.10" y2="300.14" stroke="#1a1a1a" stroke-width="1.1"/>
<text x="378.20" y="303.75" text-anchor="end" font-size="11.7">6</text>
<line x1="384.50" y1="288.06" x2="391.10" y2="288.06" stroke="#1a1a1a" stroke-width="1.1"/>
<text x="378.20" y="291.66" text-anchor="end" font-size="11.7">8</text>
<line x1="384.50" y1="275.98" x2="391.10" y2="275.98" stroke="#1a1a1a" stroke-width="1.1"/>
<text x="378.20" y="279.58" text-anchor="end" font-size="11.7">10</text>
<line x1="384.50" y1="263.89" x2="391.10" y2="263.89" stroke="#1a1a1a" stroke-width="1.1"/>
<text x="378.20" y="267.49" text-anchor="end" font-size="11.7">12</text>
<line x1="384.50" y1="251.81" x2="391.10" y2="251.81" stroke="#1a1a1a" stroke-width="1.1"/>
<text x="378.20" y="255.41" text-anchor="end" font-size="11.7">14</text>
<line x1="384.50" y1="239.72" x2="391.10" y2="239.72" stroke="#1a1a1a" stroke-width="1.1"/>
<text x="378.20" y="243.32" text-anchor="end" font-size="11.7">16</text>
<line x1="384.50" y1="227.63" x2="391.10" y2="227.63" stroke="#1a1a1a" stroke-width="1.1"/>
<text x="378.20" y="231.23" text-anchor="end" font-size="11.7">18</text>
<line x1="384.50" y1="215.55" x2="391.10" y2="215.55" stroke="#1a1a1a" stroke-width="1.1"/>
<text x="378.20" y="219.15" text-anchor="end" font-size="11.7">20</text>
<line x1="384.50" y1="336.40" x2="683.00" y2="336.40" stroke="#1a1a1a" stroke-width="1.1"/>
<line x1="387.80" y1="336.40" x2="387.80" y2="339.70" stroke="#1a1a1a" stroke-width="1.1"/>
<line x1="461.60" y1="336.40" x2="461.60" y2="339.70" stroke="#1a1a1a" stroke-width="1.1"/>
<line x1="535.40" y1="336.40" x2="535.40" y2="339.70" stroke="#1a1a1a" stroke-width="1.1"/>
<line x1="609.20" y1="336.40" x2="609.20" y2="339.70" stroke="#1a1a1a" stroke-width="1.1"/>
<line x1="683.00" y1="336.40" x2="683.00" y2="339.70" stroke="#1a1a1a" stroke-width="1.1"/>
<text x="424.70" y="354.00" text-anchor="middle" font-size="11.7">30</text>
<text x="498.50" y="354.00" text-anchor="middle" font-size="11.7">60</text>
<text x="572.30" y="354.00" text-anchor="middle" font-size="11.7">90</text>
<text x="646.10" y="354.00" text-anchor="middle" font-size="11.7">150</text>
<text x="534.50" y="361.30" text-anchor="middle" font-size="11.7">Days</text>
<text x="0" y="0" text-anchor="middle" font-size="11.7" transform="translate(361.20,275.20) rotate(-90)">Leaf number per plant</text>
<rect x="399.55" y="312.00" width="10.40" height="24.40" fill="#4F81BD"/>
<rect x="412.85" y="299.30" width="10.40" height="37.10" fill="#C0504D"/>
<rect x="426.15" y="302.70" width="10.40" height="33.70" fill="#9BBB59"/>
<rect x="439.45" y="306.40" width="10.40" height="30.00" fill="#8064A2"/>
<rect x="473.35" y="302.00" width="10.40" height="34.40" fill="#4F81BD"/>
<rect x="486.65" y="299.00" width="10.40" height="37.40" fill="#C0504D"/>
<rect x="499.95" y="299.10" width="10.40" height="37.30" fill="#9BBB59"/>
<rect x="513.25" y="298.40" width="10.40" height="38.00" fill="#8064A2"/>
<rect x="547.15" y="282.20" width="10.40" height="54.20" fill="#4F81BD"/>
<rect x="560.45" y="279.40" width="10.40" height="57.00" fill="#C0504D"/>
<rect x="573.75" y="280.30" width="10.40" height="56.10" fill="#9BBB59"/>
<rect x="587.05" y="264.30" width="10.40" height="72.10" fill="#8064A2"/>
<rect x="620.95" y="272.40" width="10.40" height="64.00" fill="#4F81BD"/>
<rect x="634.25" y="245.10" width="10.40" height="91.30" fill="#C0504D"/>
<rect x="647.55" y="256.40" width="10.40" height="80.00" fill="#9BBB59"/>
<rect x="660.85" y="227.30" width="10.40" height="109.10" fill="#8064A2"/>
<line x1="404.75" y1="309.70" x2="404.75" y2="314.30" stroke="#4a4a4a" stroke-width="1.0"/>
<line x1="402.25" y1="309.70" x2="407.25" y2="309.70" stroke="#4a4a4a" stroke-width="1.0"/>
<line x1="402.25" y1="314.30" x2="407.25" y2="314.30" stroke="#4a4a4a" stroke-width="1.0"/>
<text x="0" y="0" text-anchor="middle" font-size="11.8" transform="translate(404.55,307.90) scale(0.96,1)">d</text>
<line x1="418.05" y1="298.70" x2="418.05" y2="299.90" stroke="#4a4a4a" stroke-width="1.0"/>
<line x1="415.55" y1="298.70" x2="420.55" y2="298.70" stroke="#4a4a4a" stroke-width="1.0"/>
<line x1="415.55" y1="299.90" x2="420.55" y2="299.90" stroke="#4a4a4a" stroke-width="1.0"/>
<text x="0" y="0" text-anchor="middle" font-size="11.8" transform="translate(417.85,296.80) scale(0.96,1)">a</text>
<line x1="431.35" y1="301.00" x2="431.35" y2="304.40" stroke="#4a4a4a" stroke-width="1.0"/>
<line x1="428.85" y1="301.00" x2="433.85" y2="301.00" stroke="#4a4a4a" stroke-width="1.0"/>
<line x1="428.85" y1="304.40" x2="433.85" y2="304.40" stroke="#4a4a4a" stroke-width="1.0"/>
<text x="0" y="0" text-anchor="middle" font-size="11.8" transform="translate(431.15,300.20) scale(0.96,1)">b</text>
<line x1="444.65" y1="305.40" x2="444.65" y2="307.40" stroke="#4a4a4a" stroke-width="1.0"/>
<line x1="442.15" y1="305.40" x2="447.15" y2="305.40" stroke="#4a4a4a" stroke-width="1.0"/>
<line x1="442.15" y1="307.40" x2="447.15" y2="307.40" stroke="#4a4a4a" stroke-width="1.0"/>
<text x="0" y="0" text-anchor="middle" font-size="11.8" transform="translate(444.45,303.90) scale(0.96,1)">c</text>
<line x1="478.55" y1="300.50" x2="478.55" y2="303.50" stroke="#4a4a4a" stroke-width="1.0"/>
<line x1="476.05" y1="300.50" x2="481.05" y2="300.50" stroke="#4a4a4a" stroke-width="1.0"/>
<line x1="476.05" y1="303.50" x2="481.05" y2="303.50" stroke="#4a4a4a" stroke-width="1.0"/>
<text x="0" y="0" text-anchor="middle" font-size="11.0" transform="translate(478.35,300.20) scale(0.96,1)">b</text>
<line x1="491.85" y1="298.10" x2="491.85" y2="299.90" stroke="#4a4a4a" stroke-width="1.0"/>
<line x1="489.35" y1="298.10" x2="494.35" y2="298.10" stroke="#4a4a4a" stroke-width="1.0"/>
<line x1="489.35" y1="299.90" x2="494.35" y2="299.90" stroke="#4a4a4a" stroke-width="1.0"/>
<text x="0" y="0" text-anchor="middle" font-size="11.0" transform="translate(491.65,297.00) scale(0.96,1)">a</text>
<line x1="505.15" y1="297.35" x2="505.15" y2="300.85" stroke="#4a4a4a" stroke-width="1.0"/>
<line x1="502.65" y1="297.35" x2="507.65" y2="297.35" stroke="#4a4a4a" stroke-width="1.0"/>
<line x1="502.65" y1="300.85" x2="507.65" y2="300.85" stroke="#4a4a4a" stroke-width="1.0"/>
<text x="0" y="0" text-anchor="middle" font-size="11.0" transform="translate(504.95,295.10) scale(0.96,1)">ab</text>
<line x1="518.45" y1="297.40" x2="518.45" y2="299.40" stroke="#4a4a4a" stroke-width="1.0"/>
<line x1="515.95" y1="297.40" x2="520.95" y2="297.40" stroke="#4a4a4a" stroke-width="1.0"/>
<line x1="515.95" y1="299.40" x2="520.95" y2="299.40" stroke="#4a4a4a" stroke-width="1.0"/>
<text x="0" y="0" text-anchor="middle" font-size="11.0" transform="translate(518.25,294.70) scale(0.96,1)">a</text>
<line x1="552.35" y1="279.00" x2="552.35" y2="285.40" stroke="#4a4a4a" stroke-width="1.0"/>
<line x1="549.85" y1="279.00" x2="554.85" y2="279.00" stroke="#4a4a4a" stroke-width="1.0"/>
<line x1="549.85" y1="285.40" x2="554.85" y2="285.40" stroke="#4a4a4a" stroke-width="1.0"/>
<text x="0" y="0" text-anchor="middle" font-size="10.5" transform="translate(552.15,277.20) scale(0.96,1)">b</text>
<line x1="565.65" y1="276.80" x2="565.65" y2="282.00" stroke="#4a4a4a" stroke-width="1.0"/>
<line x1="563.15" y1="276.80" x2="568.15" y2="276.80" stroke="#4a4a4a" stroke-width="1.0"/>
<line x1="563.15" y1="282.00" x2="568.15" y2="282.00" stroke="#4a4a4a" stroke-width="1.0"/>
<text x="0" y="0" text-anchor="middle" font-size="10.5" transform="translate(565.45,274.10) scale(0.96,1)">b</text>
<line x1="578.95" y1="278.00" x2="578.95" y2="282.60" stroke="#4a4a4a" stroke-width="1.0"/>
<line x1="576.45" y1="278.00" x2="581.45" y2="278.00" stroke="#4a4a4a" stroke-width="1.0"/>
<line x1="576.45" y1="282.60" x2="581.45" y2="282.60" stroke="#4a4a4a" stroke-width="1.0"/>
<text x="0" y="0" text-anchor="middle" font-size="10.5" transform="translate(578.75,274.40) scale(0.96,1)">b</text>
<line x1="592.25" y1="260.95" x2="592.25" y2="267.65" stroke="#4a4a4a" stroke-width="1.0"/>
<line x1="589.75" y1="260.95" x2="594.75" y2="260.95" stroke="#4a4a4a" stroke-width="1.0"/>
<line x1="589.75" y1="267.65" x2="594.75" y2="267.65" stroke="#4a4a4a" stroke-width="1.0"/>
<text x="0" y="0" text-anchor="middle" font-size="10.5" transform="translate(592.05,258.30) scale(0.96,1)">a</text>
<line x1="626.15" y1="267.90" x2="626.15" y2="276.90" stroke="#4a4a4a" stroke-width="1.0"/>
<line x1="623.65" y1="267.90" x2="628.65" y2="267.90" stroke="#4a4a4a" stroke-width="1.0"/>
<line x1="623.65" y1="276.90" x2="628.65" y2="276.90" stroke="#4a4a4a" stroke-width="1.0"/>
<text x="0" y="0" text-anchor="middle" font-size="10.3" transform="translate(625.95,266.50) scale(0.96,1)">c</text>
<line x1="639.45" y1="238.70" x2="639.45" y2="251.50" stroke="#4a4a4a" stroke-width="1.0"/>
<line x1="636.95" y1="238.70" x2="641.95" y2="238.70" stroke="#4a4a4a" stroke-width="1.0"/>
<line x1="636.95" y1="251.50" x2="641.95" y2="251.50" stroke="#4a4a4a" stroke-width="1.0"/>
<text x="0" y="0" text-anchor="middle" font-size="10.3" transform="translate(639.25,236.70) scale(0.96,1)">b</text>
<line x1="652.75" y1="250.55" x2="652.75" y2="262.25" stroke="#4a4a4a" stroke-width="1.0"/>
<line x1="650.25" y1="250.55" x2="655.25" y2="250.55" stroke="#4a4a4a" stroke-width="1.0"/>
<line x1="650.25" y1="262.25" x2="655.25" y2="262.25" stroke="#4a4a4a" stroke-width="1.0"/>
<text x="0" y="0" text-anchor="middle" font-size="10.3" transform="translate(652.55,248.80) scale(0.96,1)">bc</text>
<line x1="666.05" y1="221.45" x2="666.05" y2="233.15" stroke="#4a4a4a" stroke-width="1.0"/>
<line x1="663.55" y1="221.45" x2="668.55" y2="221.45" stroke="#4a4a4a" stroke-width="1.0"/>
<line x1="663.55" y1="233.15" x2="668.55" y2="233.15" stroke="#4a4a4a" stroke-width="1.0"/>
<text x="0" y="0" text-anchor="middle" font-size="10.3" transform="translate(665.85,219.00) scale(0.96,1)">a</text>
<rect x="399.10" y="230.50" width="6.00" height="6.00" fill="#4F81BD"/>
<text x="408.10" y="236.60" text-anchor="start" font-size="11.7">NPK50</text>
<rect x="499.10" y="230.50" width="6.00" height="6.00" fill="#C0504D"/>
<text x="508.10" y="236.60" text-anchor="start" font-size="11.7">W+NPK50</text>
<rect x="399.10" y="254.30" width="6.00" height="6.00" fill="#9BBB59"/>
<text x="408.10" y="260.80" text-anchor="start" font-size="11.7">N+NPK50</text>
<rect x="499.10" y="254.30" width="6.00" height="6.00" fill="#8064A2"/>
<text x="508.10" y="260.80" text-anchor="start" font-size="11.7">D+NPK50</text>
</svg>
</body></html>
